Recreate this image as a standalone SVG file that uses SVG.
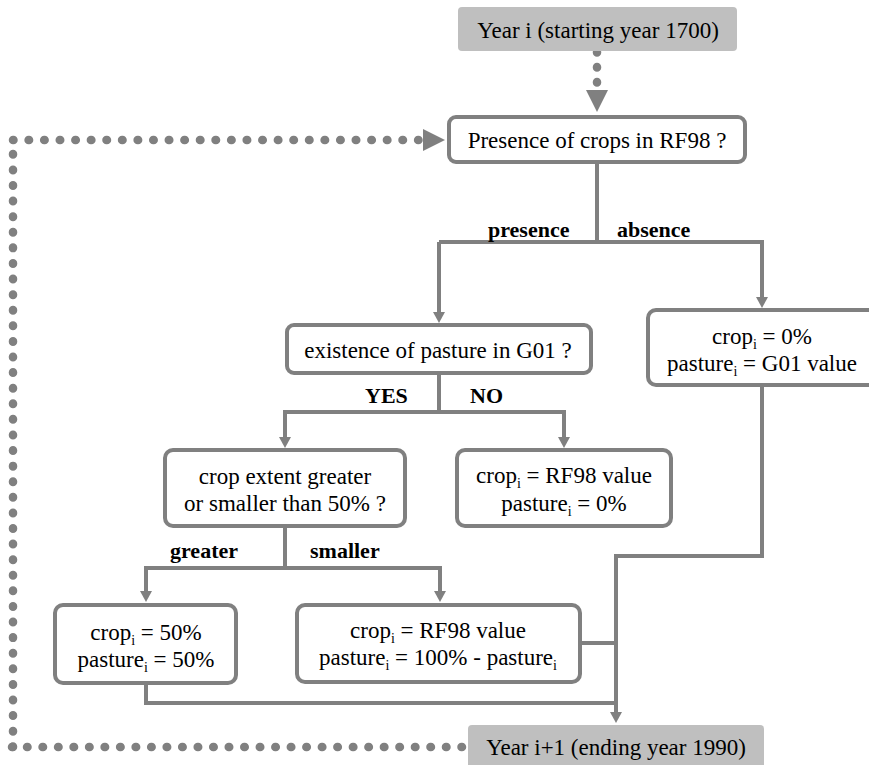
<svg xmlns="http://www.w3.org/2000/svg" width="869" height="765" viewBox="0 0 869 765">
<style>
text{font-size:23px;fill:#000}
.c{text-anchor:middle}
.lbl{font-weight:bold;font-size:22px}
.box{fill:#fff;stroke:#808080;stroke-width:4}
.gbox{fill:#bfbfbf}
.ln{fill:none;stroke:#808080;stroke-width:4;stroke-linejoin:miter}
.arr{marker-end:url(#ah)}
.big{fill:#808080}
.sub{font-size:14px}
</style>
<defs>
<marker id="ah" markerUnits="userSpaceOnUse" markerWidth="14" markerHeight="14" viewBox="0 -7 12 14" refX="0" refY="0" orient="auto">
<path d="M0,-6 L11,0 L0,6 z" fill="#808080"/>
</marker>
</defs>

<g id="connectors" font-family="Liberation Serif, Times New Roman, serif">
<path class="ln" d="M597,164 V242"/>
<path class="ln arr" d="M439,242 V312"/>
<path class="ln arr" d="M439,242 H762 V297"/>
<path class="ln" d="M439,375 V412"/>
<path class="ln arr" d="M439,412 H285 V437"/>
<path class="ln arr" d="M439,412 H564 V437"/>
<path class="ln" d="M285,528 V568"/>
<path class="ln arr" d="M285,568 H146 V591"/>
<path class="ln arr" d="M285,568 H440 V591"/>
<path class="ln arr" d="M762,387 V556 H616 V712"/>
<path class="ln" d="M582,643 H616"/>
<path class="ln" d="M146,685 V703 H616"/>
<g fill="none" stroke="#808080" stroke-width="8.5" stroke-linecap="round">
<line x1="597" y1="52" x2="597" y2="82.5" stroke-dasharray="0.5 14.5"/>
<line x1="462" y1="747" x2="12" y2="747" stroke-dasharray="0.5 15.017"/>
<line x1="13" y1="747" x2="13" y2="139" stroke-dasharray="0.5 15.09"/>
<line x1="13" y1="140" x2="418.5" y2="140" stroke-dasharray="0.5 15.08"/>
</g>
<polygon class="big" points="586,90 608,90 597,112"/>
<polygon class="big" points="423,129 423,151 445,140"/>
<text class="lbl" x="488" y="237">presence</text>
<text class="lbl" x="617" y="237">absence</text>
<text class="lbl" x="365" y="403">YES</text>
<text class="lbl" x="470" y="403">NO</text>
<text class="lbl" x="170" y="558">greater</text>
<text class="lbl" x="310" y="558">smaller</text>
</g>

<g id="year-start" font-family="Liberation Serif, Times New Roman, serif">
<rect class="gbox" x="458" y="7" width="279" height="44" rx="4"/>
<text class="c" x="598" y="38">Year i (starting year 1700)</text>
</g>

<g id="presence-crops" font-family="Liberation Serif, Times New Roman, serif">
<rect class="box" x="449" y="117" width="296" height="45" rx="7"/>
<text class="c" x="597" y="148">Presence of crops in RF98 ?</text>
</g>

<g id="existence-pasture" font-family="Liberation Serif, Times New Roman, serif">
<rect class="box" x="287" y="325" width="304" height="48" rx="7"/>
<text class="c" x="438" y="358">existence of pasture in G01 ?</text>
</g>

<g id="absence-result" font-family="Liberation Serif, Times New Roman, serif">
<rect class="box" x="648" y="310" width="240" height="75" rx="8"/>
<text class="c" x="762" y="344">crop<tspan class="sub" dy="5">i</tspan><tspan dy="-5"> = 0%</tspan></text>
<text class="c" x="762" y="371">pasture<tspan class="sub" dy="5">i</tspan><tspan dy="-5"> = G01 value</tspan></text>
</g>

<g id="crop-extent" font-family="Liberation Serif, Times New Roman, serif">
<rect class="box" x="165" y="450" width="240" height="76" rx="8"/>
<text class="c" x="285" y="484">crop extent greater</text>
<text class="c" x="285" y="511">or smaller than 50% ?</text>
</g>

<g id="no-pasture" font-family="Liberation Serif, Times New Roman, serif">
<rect class="box" x="457" y="450" width="214" height="76" rx="8"/>
<text class="c" x="564" y="483">crop<tspan class="sub" dy="5">i</tspan><tspan dy="-5"> = RF98 value</tspan></text>
<text class="c" x="564" y="511">pasture<tspan class="sub" dy="5">i</tspan><tspan dy="-5"> = 0%</tspan></text>
</g>

<g id="greater-result" font-family="Liberation Serif, Times New Roman, serif">
<rect class="box" x="55" y="605" width="181" height="78" rx="8"/>
<text class="c" x="146" y="640">crop<tspan class="sub" dy="5">i</tspan><tspan dy="-5"> = 50%</tspan></text>
<text class="c" x="146" y="667">pasture<tspan class="sub" dy="5">i</tspan><tspan dy="-5"> = 50%</tspan></text>
</g>

<g id="smaller-result" font-family="Liberation Serif, Times New Roman, serif">
<rect class="box" x="297" y="605" width="283" height="77" rx="8"/>
<text class="c" x="438" y="638">crop<tspan class="sub" dy="5">i</tspan><tspan dy="-5"> = RF98 value</tspan></text>
<text class="c" x="438" y="665">pasture<tspan class="sub" dy="5">i</tspan><tspan dy="-5"> = 100% - pasture</tspan><tspan class="sub" dy="5">i</tspan></text>
</g>

<g id="year-end" font-family="Liberation Serif, Times New Roman, serif">
<rect class="gbox" x="468" y="725" width="296" height="50" rx="4"/>
<text class="c" x="616" y="755">Year i+1 (ending year 1990)</text>
</g>
</svg>
